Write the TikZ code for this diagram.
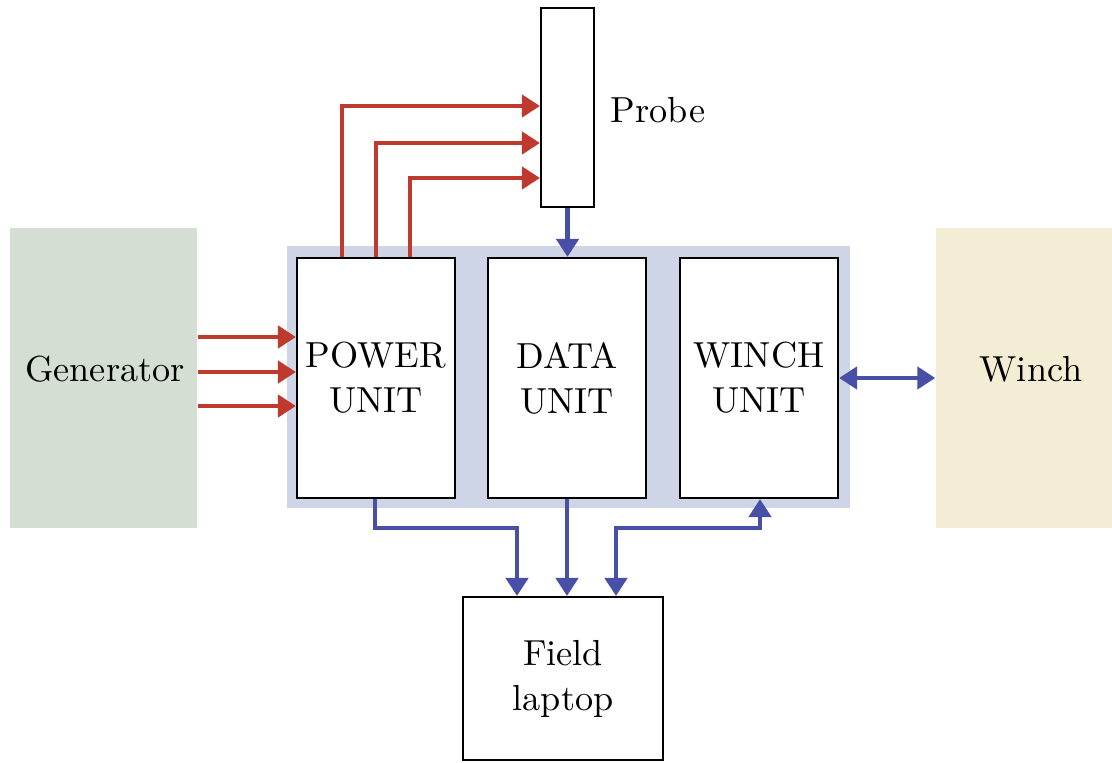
\documentclass[tikz,border=0pt]{standalone}
\usepackage{tikz}
\usetikzlibrary{arrows.meta}

\definecolor{genfill}{HTML}{D4DED3}
\definecolor{winchfill}{HTML}{F4EDD6}
\definecolor{bgfill}{HTML}{CDD5E7}
\definecolor{powred}{HTML}{C0392F}
\definecolor{datblue}{HTML}{4750A6}

\tikzset{
    unitbox/.style={draw, fill=white, line width=0.6pt, minimum width=1.58cm, minimum height=2.40cm, align=center, inner sep=0pt},
    sidebox/.style={minimum width=1.87cm, minimum height=3.00cm, inner sep=0pt},
    redarrow/.style={draw=powred, line width=1.3pt, -{Triangle[length=1.8mm,width=2.2mm]}},
    bluearrow/.style={draw=datblue, line width=1.3pt, -{Triangle[length=1.8mm,width=2.2mm]}},
    bluedouble/.style={draw=datblue, line width=1.3pt, {Triangle[length=1.8mm,width=2.2mm]}-{Triangle[length=1.8mm,width=2.2mm]}}
}

\begin{document}
\begin{tikzpicture}[font=\fontsize{10.3}{12.8}\selectfont]
    \useasboundingbox (0,0) rectangle (11.12,7.62);

    % side boxes
    \node[sidebox, fill=genfill] (gen) at (1.035,3.84) {};
    \node (genlabel) at (1.05,3.93) {Generator};
    \node[sidebox, fill=winchfill, minimum width=1.76cm] (winch) at (10.24,3.84) {};
    \node (winchlabel) at (10.31,3.93) {Winch};

    % the three units on their shaded base
    \fill[bgfill] (2.87,2.54) rectangle (8.50,5.16);
    \node[unitbox] (power) at (3.76,3.84) {POWER\\UNIT};
    \node[unitbox] (data) at (5.67,3.84) {DATA\\UNIT};
    \node[unitbox] (wunit) at (7.59,3.84) {WINCH\\UNIT};

    \node[draw, line width=0.6pt, minimum width=0.53cm, minimum height=1.99cm, inner sep=0pt] (probe) at (5.675,6.545) {};
    \node (probelabel) at (6.58,6.52) {Probe};

    \node[draw, line width=0.6pt, minimum width=2.00cm, minimum height=1.63cm, align=center, inner sep=0pt] (laptop) at (5.63,0.835) {Field\\laptop};

    % power lines
    \draw[redarrow] (gen.east |- 0,4.25) -- (power.west |- 0,4.25);
    \draw[redarrow] (gen.east |- 0,3.90) -- (power.west |- 0,3.90);
    \draw[redarrow] (gen.east |- 0,3.56) -- (power.west |- 0,3.56);
    \draw[redarrow] (power.north -| 3.42,0) -- (3.42,6.56) -- (probe.west |- 0,6.56);
    \draw[redarrow] (power.north) -- (3.76,6.19) -- (probe.west |- 0,6.19);
    \draw[redarrow] (power.north -| 4.10,0) -- (4.10,5.84) -- (probe.west |- 0,5.84);

    % data lines
    \draw[bluearrow] (probe.south) -- (data.north -| probe.south);
    \draw[bluearrow] (power.south -| 3.75,0) -- (3.75,2.34) -- (5.17,2.34) -- (laptop.north -| 5.17,0);
    \draw[bluearrow] (data.south) -- (laptop.north -| data.south);
    \draw[bluedouble] (laptop.north -| 6.16,0) -- (6.16,2.34) -- (7.60,2.34) -- (wunit.south -| 7.60,0);
    \draw[bluedouble] (wunit.east) -- (winch.west);

\end{tikzpicture}
\end{document}
